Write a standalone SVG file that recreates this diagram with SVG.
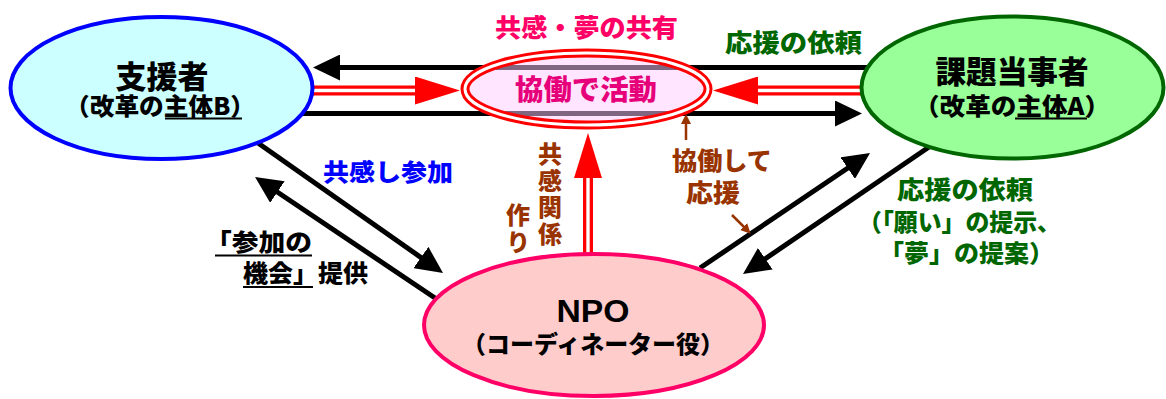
<svg xmlns="http://www.w3.org/2000/svg" width="1166" height="399" viewBox="0 0 1166 399">
<style>
text{font-family:"Noto Sans CJK JP","Noto Sans CJK SC",sans-serif;font-weight:900}
.vt{writing-mode:vertical-rl;letter-spacing:2.5px}
.blk{stroke:#000;stroke-width:5;fill:none}
.red{stroke:#ff0000;stroke-width:10;fill:none}
.wht{stroke:#fff;stroke-width:3.4;fill:none}
.brn{stroke:#993300;stroke-width:2.5;fill:none}
.t-blk{fill:#000}
.t-pink{fill:#ff0066}
.t-grn{fill:#006600}
.t-brn{fill:#993300}
.t-blu{fill:#0000ff}
.ul{stroke:#000;stroke-width:2}
</style>
<defs>
<marker id="ab" viewBox="0 0 27 26" refX="15" refY="13" markerWidth="27" markerHeight="26" markerUnits="userSpaceOnUse" orient="auto"><path d="M0,0 L27,13 L0,26 z" fill="#000"/></marker>
<marker id="ar" viewBox="0 0 45 28" refX="0" refY="14" markerWidth="45" markerHeight="28" markerUnits="userSpaceOnUse" orient="auto"><path d="M0,0 L45,14 L0,28 z" fill="#ff0000"/></marker>
<marker id="an" viewBox="0 0 10 10" refX="2" refY="5" markerWidth="10" markerHeight="10" markerUnits="userSpaceOnUse" orient="auto"><path d="M0,0 L10,5 L0,10 z" fill="#993300"/></marker>
</defs>
<g id="connectors">
<line class="blk" x1="870" y1="67.5" x2="325" y2="67.5" marker-end="url(#ab)"/>
<line class="blk" x1="300" y1="113.5" x2="850" y2="113.5" marker-end="url(#ab)"/>
<line class="red" x1="300" y1="90.5" x2="415" y2="90.5" marker-end="url(#ar)"/>
<line class="wht" x1="300" y1="90.5" x2="415" y2="90.5"/>
<line class="red" x1="875" y1="90.5" x2="758" y2="90.5" marker-end="url(#ar)"/>
<line class="wht" x1="875" y1="90.5" x2="758" y2="90.5"/>
<line class="red" x1="588" y1="262" x2="588" y2="178" marker-end="url(#ar)"/>
<line class="wht" x1="588" y1="262" x2="588" y2="178"/>
<line class="blk" x1="258" y1="143" x2="433.2" y2="266.1" marker-end="url(#ab)"/>
<line class="blk" x1="435" y1="298" x2="265" y2="183.7" marker-end="url(#ab)"/>
<line class="blk" x1="700" y1="268" x2="860.1" y2="159.7" marker-end="url(#ab)"/>
<line class="blk" x1="929" y1="147" x2="752.9" y2="267.2" marker-end="url(#ab)"/>
<line class="brn" x1="686" y1="140" x2="686" y2="122" marker-end="url(#an)"/>
<line class="brn" x1="732" y1="215" x2="745" y2="228" marker-end="url(#an)"/>
</g>
<g id="supporter">
<ellipse cx="161.5" cy="88" rx="151" ry="71" fill="#ccffff" stroke="#0000ff" stroke-width="4"/>
<text class="t-blk" x="162" y="88" font-size="31" text-anchor="middle" textLength="93" lengthAdjust="spacingAndGlyphs">支援者</text>
<text class="t-blk" x="160" y="115" font-size="24" text-anchor="middle" textLength="190" lengthAdjust="spacingAndGlyphs">（改革の主体B）</text>
<line class="ul" x1="165" y1="118.5" x2="242" y2="118.5"/>
</g>
<g id="party">
<ellipse cx="1012.5" cy="87.5" rx="151" ry="71" fill="#99ff99" stroke="#006600" stroke-width="4"/>
<text class="t-blk" x="1012" y="83" font-size="31" text-anchor="middle" textLength="153" lengthAdjust="spacingAndGlyphs">課題当事者</text>
<text class="t-blk" x="1012" y="115" font-size="24" text-anchor="middle" textLength="196" lengthAdjust="spacingAndGlyphs">（改革の主体A）</text>
<line class="ul" x1="1015" y1="118.5" x2="1087" y2="118.5"/>
</g>
<g id="collab">
<ellipse cx="586.5" cy="89" rx="121.5" ry="36" fill="#ffccff" fill-opacity="0.5" stroke="#ff0000" stroke-width="9"/>
<ellipse cx="586.5" cy="89" rx="121.5" ry="36" fill="none" stroke="#fff" stroke-width="3"/>
<text x="586" y="100" font-size="28" text-anchor="middle" textLength="142" lengthAdjust="spacingAndGlyphs" fill="#e6007a">協働で活動</text>
</g>
<g id="npo">
<ellipse cx="594" cy="325" rx="170" ry="71" fill="#ffcccc" stroke="#ff0066" stroke-width="4"/>
<text class="t-blk" x="593" y="322" font-size="31" text-anchor="middle" textLength="73" lengthAdjust="spacingAndGlyphs" style="font-family:'Liberation Sans',Arial,sans-serif;font-weight:bold">NPO</text>
<text class="t-blk" x="593" y="353" font-size="24" text-anchor="middle" textLength="262" lengthAdjust="spacingAndGlyphs">（コーディネーター役）</text>
</g>
<g id="labels">
<text class="t-pink" x="586.5" y="37" font-size="25" text-anchor="middle" textLength="183" lengthAdjust="spacingAndGlyphs">共感・夢の共有</text>
<text class="t-grn" x="725" y="52" font-size="25" textLength="137" lengthAdjust="spacingAndGlyphs">応援の依頼</text>
<text class="t-blu" x="323" y="181" font-size="24" textLength="130" lengthAdjust="spacingAndGlyphs">共感し参加</text>
<text class="t-blk" x="205" y="251" font-size="24" textLength="107" lengthAdjust="spacingAndGlyphs">「参加の</text>
<line class="ul" x1="215" y1="255.5" x2="312" y2="255.5"/>
<text class="t-blk" x="243" y="282" font-size="24" textLength="125" lengthAdjust="spacingAndGlyphs">機会」提供</text>
<line class="ul" x1="243" y1="287" x2="313" y2="287"/>
<text class="t-brn vt" x="550" y="142" font-size="24">共感関係</text>
<text class="t-brn vt" x="518" y="203" font-size="24">作り</text>
<text class="t-brn" x="672" y="170" font-size="25" textLength="100" lengthAdjust="spacingAndGlyphs">協働して</text>
<text class="t-brn" x="686" y="202" font-size="25" textLength="54" lengthAdjust="spacingAndGlyphs">応援</text>
<text class="t-grn" x="897" y="199" font-size="25" textLength="136" lengthAdjust="spacingAndGlyphs">応援の依頼</text>
<text class="t-grn" x="858" y="231" font-size="24" textLength="203" lengthAdjust="spacingAndGlyphs">（「願い」の提示、</text>
<text class="t-grn" x="879" y="262" font-size="24" textLength="175" lengthAdjust="spacingAndGlyphs">「夢」の提案）</text>
</g>
</svg>
